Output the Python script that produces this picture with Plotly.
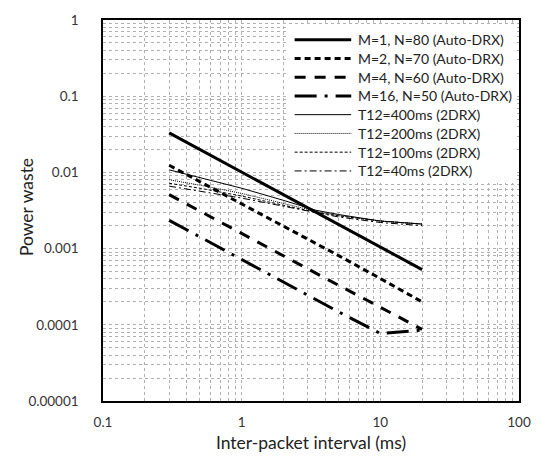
import plotly.graph_objects as go

# ---- data ----
x_auto = [0.3, 1, 2, 5, 10, 20]
m1_n80 = [0.033, 0.0101, 0.0051, 0.00207, 0.00105, 0.00053]
m2_n70 = [0.0124, 0.0039, 0.00198, 0.00081, 0.000405, 0.000200]
m4_n60 = [0.0051, 0.00157, 0.00080, 0.00033, 0.000170, 0.000087]
m16_n50 = [0.00235, 0.00072, 0.00036, 0.000148, 0.000077, 0.000085]

x_2drx = [0.3, 0.5, 1, 2, 3.4, 5, 10, 20]
t12_400 = [0.0108, 0.0086, 0.0062, 0.0043, 0.0032, 0.0028, 0.0023, 0.0021]
t12_200 = [0.0080, 0.0068, 0.0053, 0.0039, 0.0031, 0.0027, 0.0023, 0.0021]
t12_100 = [0.0072, 0.0062, 0.0049, 0.0037, 0.0030, 0.0027, 0.0023, 0.0021]
t12_40 = [0.0066, 0.0057, 0.0046, 0.0036, 0.0030, 0.0026, 0.0022, 0.0020]

names = ["M=1, N=80 (Auto-DRX)", "M=2, N=70 (Auto-DRX)", "M=4, N=60 (Auto-DRX)",
         "M=16, N=50 (Auto-DRX)", "T12=400ms (2DRX)", "T12=200ms (2DRX)",
         "T12=100ms (2DRX)", "T12=40ms (2DRX)"]

x_tickvals = [0.1, 1, 10, 100]
x_ticktext = ["0.1", "1", "10", "100"]
y_tickvals = [1, 0.1, 0.01, 0.001, 0.0001, 0.00001]
y_ticktext = ["1", "0.1", "0.01", "0.001", "0.0001", "0.00001"]

series = [
    (x_auto, m1_n80, 3, "solid"),
    (x_auto, m2_n70, 3, "6px,4px"),
    (x_auto, m4_n60, 3, "11px,9px"),
    (x_auto, m16_n50, 3, "22px,8px,3px,8px"),
    (x_2drx, t12_400, 1, "solid"),
    (x_2drx, t12_200, 1, "1px,1px"),
    (x_2drx, t12_100, 1, "3px,2px"),
    (x_2drx, t12_40, 1, "7px,3px,2px,3px"),
]

FONT = "Lato"
fig = go.Figure()
for (xs, ys, w, d), nm in zip(series, names):
    fig.add_trace(go.Scatter(x=xs, y=ys, mode="lines", name=nm, showlegend=False,
                             line=dict(color="black", width=w, dash=d)))

# ---- manual legend in paper coordinates ----
L, R, T, B = 103, 522, 14, 402
W, H = R - L, B - T
def px(xp): return (xp - L) / W
def py(yp): return (B - yp) / H

shapes = [dict(type="rect", xref="paper", yref="paper", x0=px(290), x1=px(517),
               y0=py(180), y1=py(20), fillcolor="white", line=dict(width=0), layer="above")]
annotations = []
for i, ((xs, ys, w, d), nm) in enumerate(zip(series, names)):
    yy = 34 + i * 19.1
    shapes.append(dict(type="line", xref="paper", yref="paper", x0=px(296), x1=px(353),
                       y0=py(yy), y1=py(yy), line=dict(color="black", width=w, dash=d),
                       layer="above"))
    annotations.append(dict(xref="paper", yref="paper", x=px(358), y=py(yy), text=nm,
                            showarrow=False, xanchor="left", yanchor="middle",
                            font=dict(family=FONT, size=14, color="#222")))

# y-axis title placed as text to match its position
annotations.append(dict(xref="paper", yref="paper", x=px(26), y=py(205), text="Power waste",
                        textangle=-90, showarrow=False, xanchor="center", yanchor="middle",
                        font=dict(family=FONT, size=17.5, color="#222")))

grid = "#b0b0b0"
axis_common = dict(type="log", showline=True, linecolor="black", linewidth=1.5, mirror=True,
                   showgrid=True, gridcolor=grid, griddash="dot", gridwidth=1,
                   ticks="", zeroline=False,
                   tickfont=dict(family=FONT, size=13.5, color="#333"),
                   minor=dict(dtick="D1", showgrid=True, gridcolor=grid, griddash="dot",
                              gridwidth=1, ticks=""))

fig.update_layout(
    width=543, height=462,
    margin=dict(l=L, r=543 - R, t=T, b=462 - B),
    paper_bgcolor="white", plot_bgcolor="white",
    shapes=shapes, annotations=annotations,
    xaxis=dict(axis_common, range=[-1, 2], tickvals=x_tickvals, ticktext=x_ticktext,
               ticklabelstandoff=8,
               title=dict(text="Inter-packet interval (ms)", standoff=8,
                          font=dict(family=FONT, size=17.5, color="#222"))),
    yaxis=dict(axis_common, range=[-5, 0], tickvals=y_tickvals, ticktext=y_ticktext,
               ticklabelstandoff=20),
)
fig.write_html("out.html")
